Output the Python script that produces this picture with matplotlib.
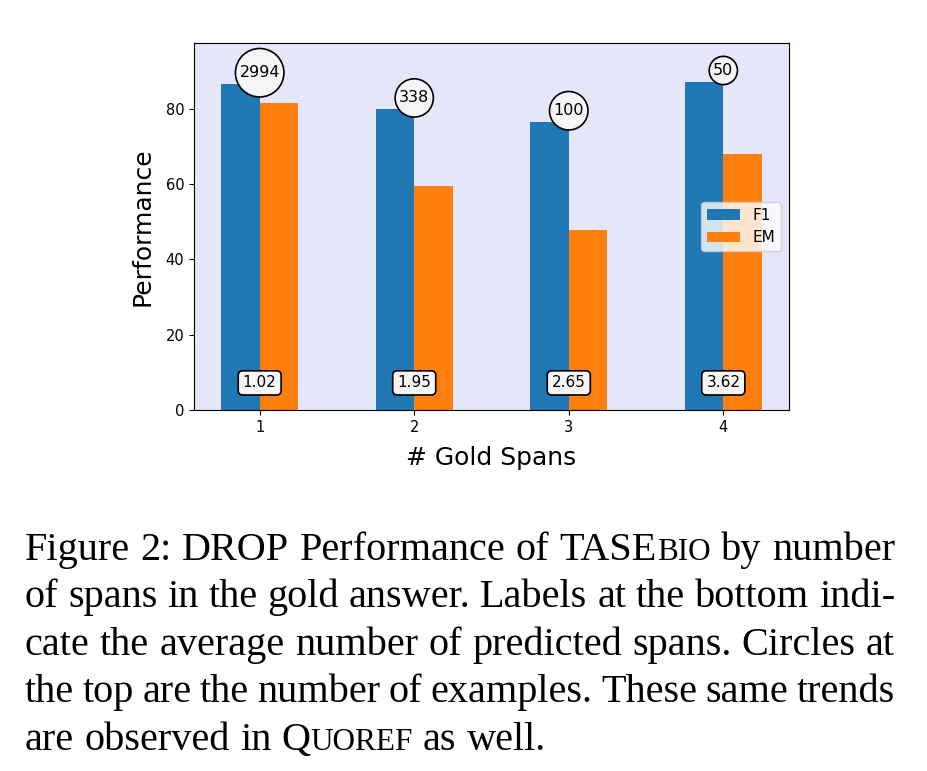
import numpy as np
import matplotlib
matplotlib.use("Agg")
import matplotlib.pyplot as plt

# ---- data ----
gold_spans = [1, 2, 3, 4]
f1_scores = [86.6, 79.9, 76.5, 87.2]
em_scores = [81.6, 59.6, 47.8, 68.0]
n_examples = [2994, 338, 100, 50]
avg_pred_spans = [1.02, 1.95, 2.65, 3.62]

W, H = 927, 771
fig = plt.figure(figsize=(W / 100, H / 100), dpi=100)
fig.patch.set_facecolor("white")

# axes box in pixel coords: left 194, right 789, top 43, bottom 410
ax = fig.add_axes([194 / W, 1 - 410 / H, (789 - 194) / W, (410 - 43) / H])
ax.set_facecolor("lavender")

x = np.array(gold_spans, dtype=float)
width = 0.25
ax.bar(x - width / 2, f1_scores, width, color="#1f77b4", label="F1")
ax.bar(x + width / 2, em_scores, width, color="#ff7f0e", label="EM")

# circles with number of examples on top of the F1 bars
for xi, f1, n in zip(x, f1_scores, n_examples):
    ax.text(xi, f1 + 3.0, str(n), ha="center", va="center", fontsize=11.5,
            bbox=dict(boxstyle="circle,pad=0.25", fc="whitesmoke", ec="black", lw=1.2))

# average number of predicted spans at the bottom
for xi, s in zip(x, avg_pred_spans):
    ax.text(xi, 7.2, f"{s:.2f}", ha="center", va="center", fontsize=11,
            bbox=dict(boxstyle="round,pad=0.3", fc="whitesmoke", ec="black", lw=1.2))

ax.set_xticks(gold_spans)
ax.set_yticks([0, 20, 40, 60, 80])
ax.set_ylim(0, 97.5)
ax.tick_params(labelsize=10.5)
ax.set_xlabel("# Gold Spans", fontsize=18, labelpad=8)
ax.set_ylabel("Performance", fontsize=18, labelpad=8)
ax.legend(loc="center right", fontsize=11, handlelength=2.2)

# ---- caption (justified, Times-like serif) ----
cap_size = 29
sc_size = 22.5
caption_lines = [
    [[("Figure", cap_size)], [("2:", cap_size)], [("DROP", cap_size)], [("Performance", cap_size)],
     [("of", cap_size)], [("TASE", cap_size), ("BIO", sc_size)], [("by", cap_size)], [("number", cap_size)]],
    [[(w, cap_size)] for w in "of spans in the gold answer. Labels at the bottom indi-".split()],
    [[(w, cap_size)] for w in "cate the average number of predicted spans. Circles at".split()],
    [[(w, cap_size)] for w in "the top are the number of examples. These same trends".split()],
    [[("are", cap_size)], [("observed", cap_size)], [("in", cap_size)],
     [("Q", cap_size), ("UOREF", sc_size)], [("as", cap_size)], [("well.", cap_size)]],
]
baselines = [560, 607, 655, 702, 750]
left_px, right_px = 25, 895

renderer = fig.canvas.get_renderer()
serif = ["Liberation Serif", "DejaVu Serif"]


def seg_width(s, size):
    t = fig.text(0, 0, s, fontsize=size, family=serif)
    w = t.get_window_extent(renderer).width
    t.remove()
    return w


space_w = seg_width("a b", cap_size) - seg_width("ab", cap_size)

for i, (line, yb) in enumerate(zip(caption_lines, baselines)):
    word_widths = [sum(seg_width(s, sz) for s, sz in word) for word in line]
    total = sum(word_widths)
    if i < len(caption_lines) - 1:
        gap = (right_px - left_px - total) / (len(line) - 1)
    else:
        gap = space_w
    xp = left_px
    for word, ww in zip(line, word_widths):
        xs = xp
        for s, sz in word:
            fig.text(xs / W, 1 - yb / H, s, fontsize=sz, family=serif,
                     ha="left", va="baseline")
            xs += seg_width(s, sz)
        xp += ww + gap

fig.savefig("out.png", dpi=100)
